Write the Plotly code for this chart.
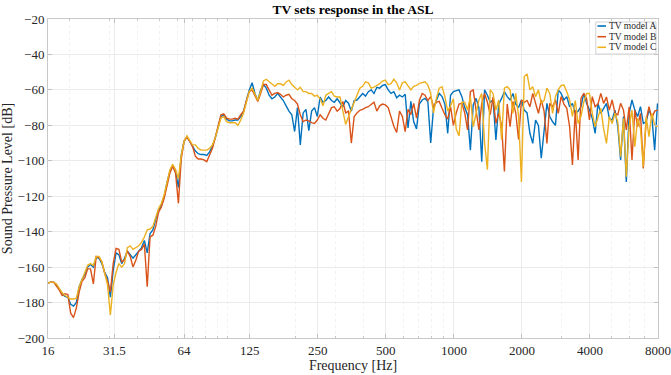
import plotly.graph_objects as go

# 1/24-octave analysis bands from 16 Hz
BANDS_PER_OCTAVE = 24
N_BANDS = 216
freq = [16 * 2 ** (k / BANDS_PER_OCTAVE) for k in range(N_BANDS)]

tv_a = [
    -169, -168.5, -168.5, -170, -172.5, -175, -176.5, -177, -181, -182, -180, -171, -167, -164, -160, -158.5, -160, -154.5, -155, -158, -163, -166, -177, -162,
    -152, -153, -158, -155, -151, -153, -155, -153, -151, -149, -145, -152, -141, -139, -133, -128, -125, -120, -112, -106, -103, -106, -115, -97,
    -89, -86.5, -89, -92, -94.5, -96, -96.5, -96.5, -97, -95, -92, -87, -81, -75, -74, -76.5, -77.5, -77.5, -77, -77, -75, -72, -66, -60,
    -56, -62, -66, -60, -57, -59, -63, -65, -64, -62, -64, -66, -69, -72, -74, -83.5, -70, -91, -73, -71, -83, -72, -70, -75,
    -64, -67, -66, -64, -66, -67, -65, -67.5, -69.5, -66, -67.5, -72, -66, -65.7, -63.5, -62, -63.5, -61, -60, -62, -58.5, -59, -57.5, -57,
    -60, -62, -61, -64.5, -63, -64, -62.5, -81.5, -66.5, -78, -82, -68, -65.7, -64.8, -66.7, -90, -70, -65.7, -62, -63.8, -68, -84.5, -63, -61,
    -60.5, -60, -63.8, -70, -74, -94, -68.5, -64.8, -70, -100.5, -60, -63, -67, -65.7, -88.3, -68, -64.8, -61, -63.8, -65.7, -62, -68, -70, -65.7,
    -71.4, -73, -84.5, -90.2, -77, -80, -98.6, -80.8, -67.6, -75, -78, -80, -60, -62, -65.7, -63.8, -69.5, -67.6, -73.2, -72, -69.5, -62, -67.6, -71.4,
    -76, -84.5, -67.6, -73.2, -70, -67.6, -76, -77, -71.4, -80.8, -99.6, -75.1, -112, -73.2, -65.7, -71.4, -75, -69.5, -78.9, -78, -71.4, -75, -94, -67.6,
]

tv_b = [
    -169, -168.5, -168.5, -170.5, -173, -176, -175, -175.5, -186, -188.5, -183, -174, -168, -166, -161, -161, -169.5, -154, -154.5, -157, -163.5, -168, -174, -158,
    -149.5, -150, -157, -156, -151, -154, -160, -156, -151, -150, -147, -171, -143, -142, -137, -129, -126, -121, -114, -107, -103, -107, -124, -99,
    -89, -86.5, -89, -92, -97.5, -99, -99, -99.5, -100.5, -97, -93, -87, -81, -74, -73.5, -76, -76.5, -76.5, -76, -76.5, -74, -72, -66, -61,
    -60, -63, -66.5, -62, -57, -57, -60, -63, -62, -61.5, -62.5, -64, -63, -62.5, -65, -66, -68, -74, -78, -77, -77.5, -78.5, -79, -77,
    -74, -76, -77, -73, -70, -69.5, -72, -70.5, -66.5, -73, -72, -90, -75, -73, -71.5, -71, -70, -69.5, -68, -67, -72, -69, -68, -68.5,
    -70, -75.5, -80.5, -84, -72, -75, -83.5, -71, -74, -67.6, -76, -66, -62, -63, -66, -63.8, -69.5, -67, -66.5, -70.4, -74, -76.5, -69.5, -80,
    -73, -68, -67.6, -73, -82.6, -61, -60, -71.4, -82.6, -67.6, -62, -67, -74, -64, -78.9, -73.2, -80, -106, -68, -80.8, -66.5, -73, -88, -65.7,
    -67, -66, -69.5, -62, -67.6, -73.2, -65.7, -72, -90.2, -67.6, -69.5, -65.7, -73.2, -63.8, -68, -70.4, -80.8, -102.4, -71.4, -99.6, -64.8, -62, -65, -77,
    -63.8, -69.5, -68, -62, -67.6, -64, -71.4, -65.7, -73.2, -74, -67.6, -71.4, -82.6, -69.5, -99.6, -71.4, -80.8, -73.2, -104.3, -77, -69.5, -76, -72, -71.4,
]

tv_c = [
    -169, -168.5, -168.5, -169.5, -172, -174.5, -176, -177, -178, -178, -177.5, -171, -167, -163, -159, -158, -159, -154, -154, -157, -163, -170, -187, -170,
    -163, -158, -160, -158, -149, -148, -150, -149, -148, -146, -143, -139, -138.5, -137, -132, -127, -124, -119, -112, -105, -102, -105, -110, -97,
    -89, -86, -88.5, -91, -91, -93, -94, -94, -94, -93, -91, -87, -81, -76, -75, -78, -78.5, -78.5, -78.5, -80, -77, -73, -67, -61,
    -59, -63, -66, -61, -55, -54, -55.5, -57, -58, -56.5, -56.5, -57.5, -55.5, -54.5, -57, -58.5, -60, -58.5, -61, -61, -62, -62, -63.5, -63,
    -65, -69, -63, -62, -61, -63.5, -64, -64, -71, -79.5, -75, -71, -67.5, -62.5, -59, -58, -55.5, -56, -59, -58.5, -57.5, -56.5, -55, -54.5,
    -57, -56.5, -54, -56, -60, -56, -55.4, -57.5, -60, -58, -57.5, -56.3, -56, -55.4, -57.3, -62, -73, -64.8, -59, -58.2, -63.8, -72, -69, -65,
    -82, -86, -67, -67, -71.4, -63.8, -80.8, -73.2, -65.7, -62, -90, -105, -60, -62, -71.4, -65.7, -88, -59, -58.2, -60, -73.2, -62, -75, -112,
    -52.5, -51, -60, -58.2, -63.8, -60, -67.6, -66, -59, -62, -73.2, -63.8, -60, -57.5, -57.3, -61, -65.7, -75, -66, -78.9, -75, -67, -62, -62,
    -73.2, -80.8, -75, -70.4, -82, -90.2, -75.1, -79, -73.2, -78, -97.7, -76, -109, -80.8, -71.4, -92, -76, -82, -103.3, -75.1, -86.4, -73.2, -80, -80.8,
]

series_names = ["TV model A", "TV model B", "TV model C"]
series_colors = ["#0072BD", "#D95319", "#EDB120"]

x_tick_vals = [16, 31.5, 64, 125, 250, 500, 1000, 2000, 4000, 8000]
x_tick_text = ["16", "31.5", "64", "125", "250", "500", "1000", "2000", "4000", "8000"]
x_minor_vals = [20, 30, 40, 50, 60, 70, 80, 90, 100, 200, 300, 400, 600, 700, 800, 900,
                3000, 5000, 6000, 7000]
y_tick_vals = list(range(-200, 0, 20))

FONT = "Liberation Serif, serif"
TEXT = "#262626"

fig = go.Figure()
for name, vals, col in zip(series_names, [tv_a, tv_b, tv_c], series_colors):
    fig.add_trace(go.Scatter(x=freq, y=vals, mode="lines", name=name,
                             line=dict(color=col, width=1.4), showlegend=False))

# compact MATLAB-style legend box (top right, inside the axes)
LEG_X0, LEG_X1, LEG_Y0, LEG_Y1 = 0.898, 0.9967, 0.8903, 0.9906
LINE_X0, LINE_X1, TEXT_X = 0.9008, 0.9148, 0.9165
ROW_Y = [0.978, 0.9445, 0.9113]
shapes = [dict(type="rect", xref="paper", yref="paper", x0=LEG_X0, x1=LEG_X1, y0=LEG_Y0, y1=LEG_Y1,
               line=dict(color="#c8c8c8", width=0.8), fillcolor="white", layer="above")]
annotations = []
for name, col, ry in zip(series_names, series_colors, ROW_Y):
    shapes.append(dict(type="line", xref="paper", yref="paper", x0=LINE_X0, x1=LINE_X1, y0=ry, y1=ry,
                       line=dict(color=col, width=1.6), layer="above"))
    annotations.append(dict(text=name, xref="paper", yref="paper", x=TEXT_X, y=ry,
                            xanchor="left", yanchor="middle", showarrow=False,
                            font=dict(family=FONT, size=9.5, color=TEXT)))

fig.update_layout(
    width=671, height=375,
    margin=dict(l=48, r=13, t=19, b=37),
    paper_bgcolor="white", plot_bgcolor="white",
    font=dict(family=FONT, size=13, color=TEXT),
    title=dict(text="<b>TV sets response in the ASL</b>", x=0.5, xanchor="center",
               xref="paper", y=0.975, yanchor="middle",
               font=dict(family=FONT, size=13.5, color="#000000")),
    showlegend=False,
    shapes=shapes,
    annotations=annotations,
)

fig.update_xaxes(
    type="log", range=[1.20412, 3.90309], automargin=False,
    tickvals=x_tick_vals, ticktext=x_tick_text,
    ticks="inside", ticklen=4, tickcolor="#c0c0c0",
    showline=True, linecolor="#c8c8c8", linewidth=1, mirror="ticks",
    showgrid=True, gridcolor="#ebebeb", gridwidth=1,
    zeroline=False,
    minor=dict(tickvals=x_minor_vals, ticks="inside", ticklen=2, tickcolor="#c8c8c8",
               showgrid=True, gridcolor="#f2f2f2", griddash="dot", gridwidth=1),
    title=dict(text="Frequency [Hz]", font=dict(family=FONT, size=14, color=TEXT), standoff=2),
    tickfont=dict(family=FONT, size=13, color=TEXT),
)
fig.update_yaxes(
    range=[-200, -20], automargin=False,
    tickvals=y_tick_vals,
    ticks="inside", ticklen=4, tickcolor="#c0c0c0",
    showline=True, linecolor="#c8c8c8", linewidth=1, mirror="ticks",
    showgrid=True, gridcolor="#ebebeb", gridwidth=1,
    zeroline=False,
    title=dict(text="Sound Pressure Level [dB]", font=dict(family=FONT, size=14, color=TEXT), standoff=2),
    tickfont=dict(family=FONT, size=13, color=TEXT),
)

fig.write_html("out.html")
